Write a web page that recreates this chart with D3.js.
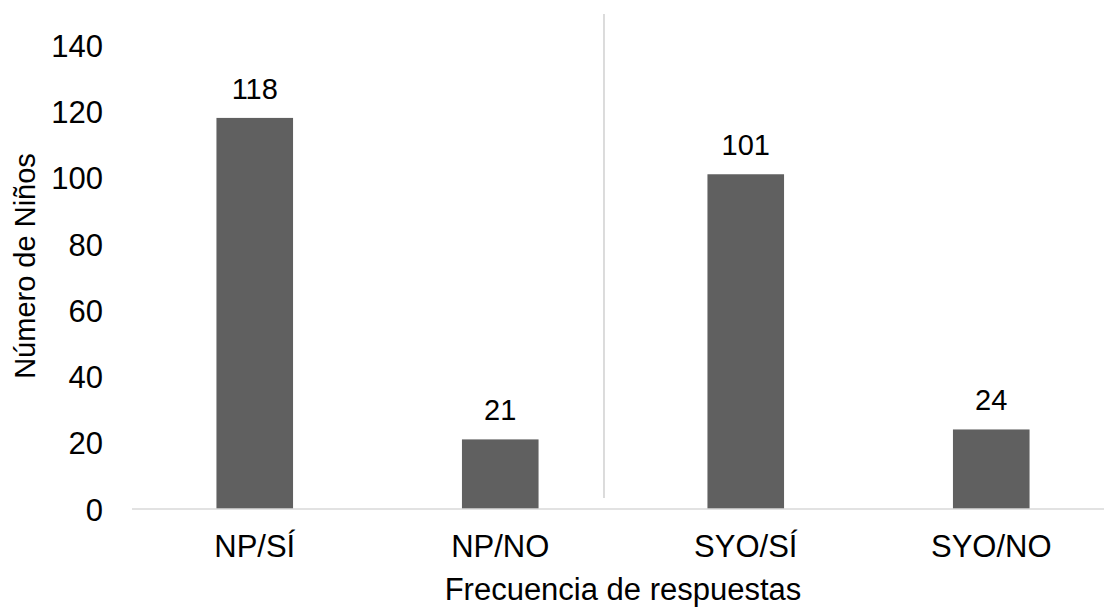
<!DOCTYPE html>
<html>
<head>
<meta charset="utf-8">
<script src="https://cdn.jsdelivr.net/npm/d3@7"></script>
<style>
  html, body { margin: 0; padding: 0; background: #fff; }
  svg { display: block; font-family: "Liberation Sans", Arial, sans-serif; }
</style>
</head>
<body>
<svg id="chart" width="1104" height="607"></svg>
<script>
// Response frequencies per category
const categories = ["NP/SÍ", "NP/NO", "SYO/SÍ", "SYO/NO"];
const counts = [118, 21, 101, 24];
const yTicks = [0, 20, 40, 60, 80, 100, 120, 140];
const xTitle = "Frecuencia de respuestas";
const yTitle = "Número de Niños";

const svg = d3.select("#chart");

const x = d3.scaleBand()
  .domain(categories)
  .range([132, 1114])
  .paddingInner(0.688)
  .paddingOuter(0.344);

const y = d3.scaleLinear()
  .domain([0, 140])
  .range([509, 45]);

// Y tick labels (no axis line, no tick marks)
const yAxis = svg.append("g")
  .attr("transform", "translate(103,0)")
  .call(d3.axisLeft(y).tickValues(yTicks).tickSize(0).tickPadding(0));
yAxis.select(".domain").remove();
yAxis.selectAll("text")
  .attr("font-size", 31)
  .attr("fill", "#000")
  .attr("font-family", "Liberation Sans, Arial, sans-serif")
  .attr("dy", "0.36em");

// Divider between the NP and SYO groups
const gapStart = x("NP/NO") + x.bandwidth();
const dividerX = gapStart + (x("SYO/SÍ") - gapStart) * 0.3875;
svg.append("line")
  .attr("x1", dividerX).attr("x2", dividerX)
  .attr("y1", y(140) - 31).attr("y2", y(0) - 11)
  .attr("stroke", "#d0d0d0")
  .attr("stroke-width", 1.5);

// Bars
svg.append("g").selectAll("rect")
  .data(categories)
  .join("rect")
  .attr("x", d => x(d))
  .attr("y", (d, i) => y(counts[i]))
  .attr("width", x.bandwidth())
  .attr("height", (d, i) => y(0) - y(counts[i]))
  .attr("fill", "#606060");

// Baseline
svg.append("line")
  .attr("x1", x.range()[0]).attr("x2", x.range()[1])
  .attr("y1", y(0)).attr("y2", y(0))
  .attr("stroke", "#d9d9d9")
  .attr("stroke-width", 1.5);

// Value labels
svg.append("g").selectAll("text")
  .data(categories)
  .join("text")
  .attr("x", d => x(d) + x.bandwidth() / 2)
  .attr("y", (d, i) => y(counts[i]) - 19)
  .attr("text-anchor", "middle")
  .attr("font-size", 29)
  .attr("fill", "#000")
  .text((d, i) => counts[i]);

// X category labels
const xAxis = svg.append("g")
  .attr("transform", `translate(0,${y(0)})`)
  .call(d3.axisBottom(x).tickSize(0).tickPadding(0));
xAxis.select(".domain").remove();
xAxis.selectAll("text")
  .attr("font-size", 31)
  .attr("fill", "#000")
  .attr("font-family", "Liberation Sans, Arial, sans-serif")
  .attr("dy", null)
  .attr("y", 48);

// Axis titles
svg.append("text")
  .attr("x", (x.range()[0] + x.range()[1]) / 2)
  .attr("y", 600)
  .attr("text-anchor", "middle")
  .attr("font-size", 31)
  .attr("fill", "#000")
  .text(xTitle);

svg.append("text")
  .attr("transform", "translate(35,266) rotate(-90)")
  .attr("text-anchor", "middle")
  .attr("font-size", 29)
  .attr("fill", "#000")
  .text(yTitle);
</script>
</body>
</html>
